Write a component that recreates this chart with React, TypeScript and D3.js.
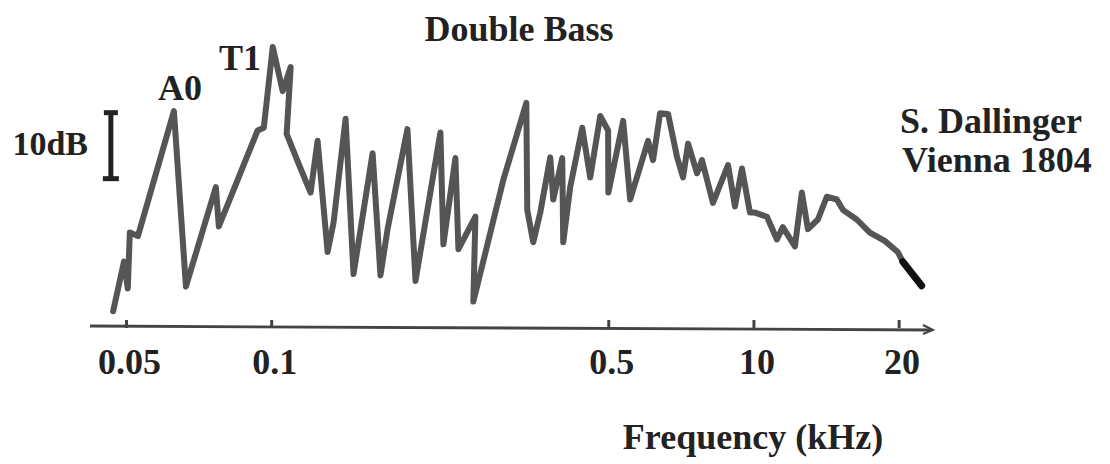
import React from "react";
import * as d3 from "d3";

// Frequency in kHz (log axis), level in dB (relative)
const freqs: number[] = [
  0.0469, 0.0494, 0.0503, 0.0508, 0.0528, 0.0627, 0.0664, 0.0766, 0.0777, 0.0935,
  0.0963, 0.1005, 0.1054, 0.1095, 0.1074, 0.1137, 0.1204, 0.1245, 0.1306, 0.1344,
  0.1423, 0.1478, 0.1619, 0.1681, 0.1739, 0.1912, 0.1987, 0.2238, 0.227, 0.2404,
  0.2439, 0.2645, 0.2619, 0.3021, 0.3373, 0.3388, 0.3486, 0.3605, 0.3781, 0.3836,
  0.4004, 0.4023, 0.4159, 0.4405, 0.4576, 0.48, 0.4984, 0.499, 0.5356, 0.5538,
  0.6032, 0.6178, 0.6388, 0.6637, 0.6929, 0.7129, 0.7302, 0.7621, 0.7804, 0.8224,
  0.8837, 0.9133, 0.9444, 0.9811, 1.0048, 1.064, 1.116, 1.148, 1.216, 1.257,
  1.294, 1.357, 1.416, 1.485, 1.529, 1.634, 1.739, 1.867, 1.987, 2.035, 2.227,
];
const levels: number[] = [
  1.7, 8.9, 5.0, 13.1, 12.6, 30.7, 5.3, 19.7, 14.0, 27.9,
  28.3, 40.0, 33.6, 37.1, 27.4, 23.1, 18.9, 26.4, 10.3, 14.6,
  29.6, 7.1, 24.6, 6.9, 13.6, 28.1, 6.1, 27.6, 11.4, 23.9,
  10.7, 15.4, 3.1, 20.7, 31.9, 16.4, 11.7, 16.0, 24.0, 17.9,
  23.9, 11.7, 19.7, 28.3, 21.1, 30.0, 27.9, 18.9, 29.3, 17.9,
  26.4, 23.6, 30.4, 30.3, 24.0, 21.1, 26.0, 21.7, 23.6, 17.4,
  22.9, 16.9, 22.4, 16.0, 16.0, 15.4, 12.1, 13.9, 11.1, 18.9,
  13.6, 15.0, 18.3, 17.9, 16.4, 15.0, 13.1, 11.9, 10.3, 8.9, 5.4,
];
const tickValues: number[] = [0.05, 0.1, 0.5, 1, 2];
const tickLabels: string[] = ["0.05", "0.1", "0.5", "10", "20"];
const scaleBarDb: number[] = [20.7, 30.7];
const scaleBarFreq = 0.0464;

const W = 1110;
const H = 464;
const FONT = "'Liberation Serif', 'Times New Roman', serif";
const INK = "#222";

export default function App() {
  const x = d3.scaleLog().domain([0.042, 2.34]).range([90, 932]);
  const y = d3.scaleLinear().domain([0, 40]).range([323, 47]);
  const axisY = 327;

  const pts: [number, number][] = freqs.map((f, i) => [f, levels[i]]);
  const line = d3
    .line<[number, number]>()
    .x((d) => x(d[0]))
    .y((d) => y(d[1]));
  const mainPath = line(pts) || "";
  const tailPath = line(pts.slice(pts.length - 2)) || "";

  const [xd0, xd1] = x.domain();
  const bx = x(scaleBarFreq);
  const by0 = y(scaleBarDb[0]);
  const by1 = y(scaleBarDb[1]);

  const textStyle = {
    fontFamily: FONT,
    fontWeight: 700 as const,
    fontSize: 36,
    fill: INK,
  };

  return (
    <svg
      width={W}
      height={H}
      style={{ position: "absolute", left: 0, top: 0, background: "#fff" }}
    >
      <rect x={0} y={0} width={W} height={H} fill="#fff" />
      {/* title */}
      <text x={519} y={41} textAnchor="middle" {...textStyle}>
        Double Bass
      </text>
      {/* peak labels */}
      <text x={180} y={100} textAnchor="middle" {...textStyle}>
        A0
      </text>
      <text x={240} y={70} textAnchor="middle" {...textStyle}>
        T1
      </text>
      {/* 10 dB scale bar */}
      <text x={88} y={155} textAnchor="end" {...textStyle} fontSize={34}>
        10dB
      </text>
      <g stroke={INK} strokeWidth={5}>
        <line x1={bx} x2={bx} y1={by1} y2={by0} />
        <line x1={bx - 7} x2={bx + 7} y1={by1 + 1.5} y2={by1 + 1.5} />
        <line x1={bx - 8} x2={bx + 8} y1={by0 - 1.5} y2={by0 - 1.5} />
      </g>
      {/* right annotation */}
      <text x={900} y={133} {...textStyle}>
        S. Dallinger
      </text>
      <text x={902} y={172} {...textStyle}>
        Vienna 1804
      </text>
      {/* axis */}
      <line
        x1={x(xd0)}
        x2={x(xd1)}
        y1={axisY - 1}
        y2={axisY + 3}
        stroke="#444"
        strokeWidth={2.8}
      />
      <path
        d={`M${x(xd1) - 9},${axisY - 2} L${x(xd1) + 1},${axisY + 3} L${x(xd1) - 9},${axisY + 7}`}
        fill="none"
        stroke="#444"
        strokeWidth={2}
      />
      {tickValues.map((t, i) => (
        <g key={i}>
          <line
            x1={x(t)}
            x2={x(t)}
            y1={axisY - 7}
            y2={axisY + 1}
            stroke="#444"
            strokeWidth={3}
          />
          <text x={x(t) + 3} y={374} textAnchor="middle" {...textStyle}>
            {tickLabels[i]}
          </text>
        </g>
      ))}
      <text x={753} y={449} textAnchor="middle" {...textStyle}>
        Frequency (kHz)
      </text>
      {/* response curve */}
      <path
        d={mainPath}
        fill="none"
        stroke="#555"
        strokeWidth={6}
        strokeLinejoin="round"
        strokeLinecap="round"
      />
      <path
        d={tailPath}
        fill="none"
        stroke="#111"
        strokeWidth={7}
        strokeLinecap="round"
      />
    </svg>
  );
}
